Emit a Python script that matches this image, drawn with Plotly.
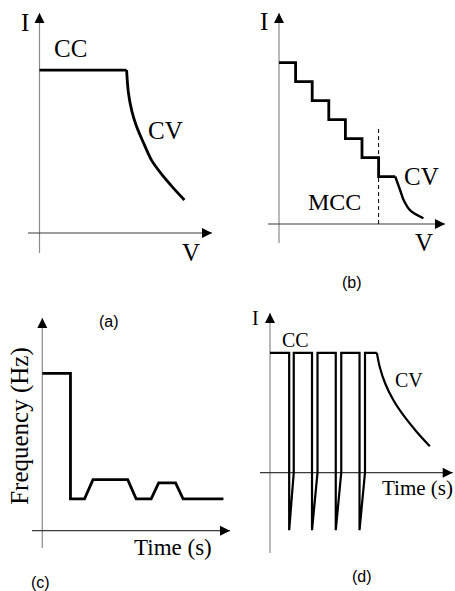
import plotly.graph_objects as go

# page window; the page's default body margin is removed so the figure fills it
PAGE_W, PAGE_H = 455, 591
OFF = 0
W, H = PAGE_W - OFF, PAGE_H - OFF

# ---------------- data (schematic units) ----------------
# (a) CC-CV charging: current I versus voltage V
a_cc_v = [0.0, 5.05]
a_cc_i = [7.4, 7.4]
a_cv_v = [5.05, 5.15, 5.35, 5.6, 6.0, 6.5, 7.1, 7.75, 8.4]
a_cv_i = [7.4, 6.4, 5.55, 4.9, 4.15, 3.3, 2.65, 2.05, 1.5]

# (b) multi-stage constant current (MCC) followed by CV
b_step_v = [0, 1, 2, 3, 4, 5, 6, 7]
b_step_i = [7.65, 6.75, 5.85, 4.95, 4.05, 3.15, 2.25]
b_cv_v = [7.0, 7.3, 7.5, 7.9, 8.7]
b_cv_i = [2.25, 1.6, 1.15, 0.65, 0.27]
b_mcc_end_v = 6.0
b_mcc_dash_top = 4.65

# (c) frequency versus time
c_t = [0, 1.5, 1.5, 2.25, 2.7, 4.55, 5.0, 5.8, 6.2, 7.1, 7.5, 9.65]
c_f = [7.4, 7.4, 1.5, 1.5, 2.4, 2.4, 1.5, 1.5, 2.25, 2.25, 1.5, 1.5]

# (d) pulse charging: current versus time
d_cc_level = 7.5
d_pulse_start = [1.05, 2.3, 3.6, 4.9]
d_pulse_end = [1.3, 2.6, 3.9, 5.2]
d_pulse_min = -3.6
d_cv_t = [5.85, 6.0, 6.3, 6.75, 7.3, 8.0, 8.75]
d_cv_i = [7.5, 6.65, 5.6, 4.55, 3.6, 2.6, 1.65]

# ---------------- panel geometry ----------------
# origin pixel (page coords), pixels per unit, axis extents (units)
panels = {
    "a": dict(ax=("x", "y"), origin=(39.5, 233), unit=(17.25, 22.0),
              xext=(-0.67, 10.0), yext=(-0.91, 10.0)),
    "b": dict(ax=("x2", "y2"), origin=(279, 224), unit=(16.6, 21.1),
              xext=(-0.66, 10.0), yext=(-0.9, 10.0)),
    "c": dict(ax=("x3", "y3"), origin=(42.3, 530.7), unit=(18.77, 21.27),
              xext=(-0.55, 10.0), yext=(-0.81, 10.0)),
    "d": dict(ax=("x4", "y4"), origin=(270, 472.7), unit=(18.27, 15.97),
              xext=(-0.55, 10.0), yext=(-5.03, 10.0)),
}

SERIF = "Liberation Serif"
SANS = "Liberation Sans"
labels = {
    "a": [("I", -0.85, 9.55, 25, SERIF, 0), ("CC", 1.8, 8.4, 25, SERIF, 0),
          ("CV", 7.3, 4.68, 25, SERIF, 0), ("V", 8.78, -0.9, 25, SERIF, 0),
          ("(a)", 4.0, -4.0, 16, SANS, 0)],
    "b": [("I", -0.9, 9.6, 25, SERIF, 0), ("CV", 8.6, 2.27, 25, SERIF, 0),
          ("MCC", 3.35, 1.03, 24, SERIF, 0), ("V", 8.75, -0.9, 25, SERIF, 0),
          ("(b)", 4.4, -2.75, 16, SANS, 0)],
    "c": [("Frequency (Hz)", -1.2, 4.92, 25, SERIF, -90),
          ("Time (s)", 6.95, -0.77, 23, SERIF, 0),
          ("(c)", -0.12, -2.45, 16, SANS, 0)],
    "d": [("I", -0.82, 9.7, 20, SERIF, 0), ("CC", 1.42, 8.29, 20, SERIF, 0),
          ("CV", 7.6, 5.8, 20, SERIF, 0), ("Time (s)", 8.08, -0.96, 21, SERIF, 0),
          ("(d)", 5.02, -6.5, 16, SANS, 0)],
}

fig = go.Figure()
layout_axes = {}
annotations = []


def axis_key(ref):
    return ("xaxis" if ref[0] == "x" else "yaxis") + ref[1:]


for name, p in panels.items():
    xr, yr = p["ax"]
    ox, oy = p["origin"]
    ux, uy = p["unit"]
    layout_axes[axis_key(xr)] = dict(domain=[0, 1],
                                     range=[(OFF - ox) / ux, (PAGE_W - ox) / ux],
                                     visible=False, fixedrange=True, anchor=yr)
    layout_axes[axis_key(yr)] = dict(domain=[0, 1],
                                     range=[(oy - PAGE_H) / uy, (oy - OFF) / uy],
                                     visible=False, fixedrange=True, anchor=xr)
    x0, x1 = p["xext"]
    y0, y1 = p["yext"]
    # axis lines
    fig.add_trace(go.Scatter(x=[0, 0], y=[y0, y1], mode="lines",
                             line=dict(color="#8a8a8a", width=1.2),
                             xaxis=xr, yaxis=yr, hoverinfo="skip", showlegend=False))
    fig.add_trace(go.Scatter(x=[x0, x1], y=[0, 0], mode="lines",
                             line=dict(color="#3a3a3a", width=1.2),
                             xaxis=xr, yaxis=yr, hoverinfo="skip", showlegend=False))
    # arrow heads
    fig.add_trace(go.Scatter(x=[0], y=[y1], mode="markers",
                             marker=dict(symbol="arrow-up", size=10, color="black",
                                         line=dict(width=0)),
                             cliponaxis=False, xaxis=xr, yaxis=yr,
                             hoverinfo="skip", showlegend=False))
    fig.add_trace(go.Scatter(x=[x1], y=[0], mode="markers",
                             marker=dict(symbol="arrow-right", size=10, color="black",
                                         line=dict(width=0)),
                             cliponaxis=False, xaxis=xr, yaxis=yr,
                             hoverinfo="skip", showlegend=False))
    for text, tx, ty, size, fam, ang in labels[name]:
        annotations.append(dict(text=text, x=tx, y=ty, xref=xr, yref=yr,
                                showarrow=False, xanchor="center", yanchor="middle",
                                textangle=ang,
                                font=dict(family=fam, size=size, color="black")))

LW = 2.8
# (a)
fig.add_trace(go.Scatter(x=a_cc_v, y=a_cc_i, mode="lines",
                         line=dict(color="black", width=LW),
                         xaxis="x", yaxis="y", showlegend=False))
fig.add_trace(go.Scatter(x=a_cv_v, y=a_cv_i, mode="lines",
                         line=dict(color="black", width=LW, shape="spline", smoothing=0.8),
                         xaxis="x", yaxis="y", showlegend=False))

# (b)
sx, sy = [], []
for k, lvl in enumerate(b_step_i):
    sx += [b_step_v[k], b_step_v[k + 1]]
    sy += [lvl, lvl]
fig.add_trace(go.Scatter(x=sx, y=sy, mode="lines", line=dict(color="black", width=LW),
                         xaxis="x2", yaxis="y2", showlegend=False))
fig.add_trace(go.Scatter(x=b_cv_v, y=b_cv_i, mode="lines",
                         line=dict(color="black", width=LW * 0.85, shape="spline",
                                   smoothing=0.8),
                         xaxis="x2", yaxis="y2", showlegend=False))
fig.add_trace(go.Scatter(x=[b_mcc_end_v, b_mcc_end_v], y=[0, b_mcc_dash_top],
                         mode="lines", line=dict(color="black", width=1, dash="4px,3px"),
                         xaxis="x2", yaxis="y2", showlegend=False))

# (c)
fig.add_trace(go.Scatter(x=c_t, y=c_f, mode="lines", line=dict(color="black", width=LW),
                         xaxis="x3", yaxis="y3", showlegend=False))

# (d)
dx, dy = [0], [d_cc_level]
for s, e in zip(d_pulse_start, d_pulse_end):
    dx += [s, s, e, e]
    dy += [d_cc_level, d_pulse_min, 0, d_cc_level]
dx += [d_cv_t[0]]
dy += [d_cc_level]
fig.add_trace(go.Scatter(x=dx, y=dy, mode="lines", line=dict(color="black", width=2.2),
                         xaxis="x4", yaxis="y4", showlegend=False))
fig.add_trace(go.Scatter(x=d_cv_t, y=d_cv_i, mode="lines",
                         line=dict(color="black", width=2.2, shape="spline", smoothing=0.8),
                         xaxis="x4", yaxis="y4", showlegend=False))

fig.update_layout(width=W, height=H, autosize=False,
                  margin=dict(l=0, r=0, t=0, b=0, pad=0),
                  paper_bgcolor="white", plot_bgcolor="rgba(0,0,0,0)",
                  showlegend=False, annotations=annotations, **layout_axes)

fig.write_html("out.html", config={"displayModeBar": False},
               post_script="document.body.style.margin='0';"
                           "document.body.style.overflow='hidden';")
